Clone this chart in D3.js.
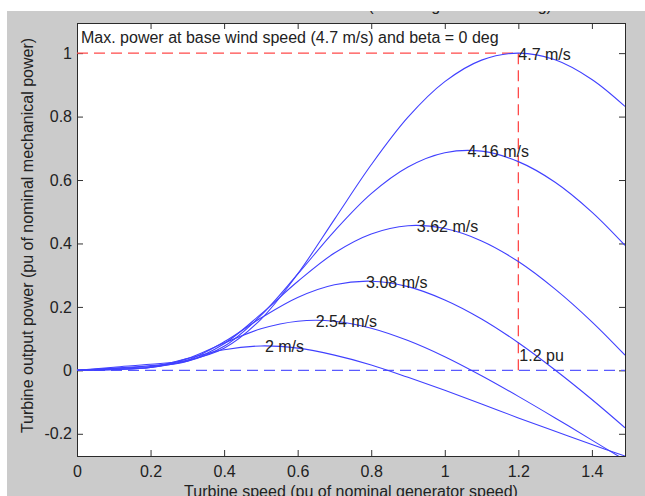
<!DOCTYPE html>
<meta charset="utf-8">
<head>
	<title>Turbine Power Characteristics</title>
	<script type="text/javascript" src="https://d3js.org/d3.v7.min.js"></script>
	<style>
		body { margin: 0; background: #fff; }
		text { font-family: "Liberation Sans", Arial, sans-serif; fill: #222; }
	</style>
</head>

<body>
	<div id="chart"></div>

	<script>
		// turbine speed samples (pu) and output power (pu) per wind speed
		const speeds = [0, 0.1, 0.2, 0.3, 0.4, 0.5, 0.6, 0.7, 0.8, 0.9, 1.0, 1.1, 1.2, 1.3, 1.4, 1.49];
		const power470 = [0, 0.010, 0.019, 0.032, 0.070, 0.161, 0.304, 0.476, 0.648, 0.798, 0.910, 0.978, 1.000, 0.979, 0.917, 0.832];
		const power416 = [0, 0.007, 0.015, 0.029, 0.076, 0.173, 0.303, 0.439, 0.557, 0.641, 0.686, 0.691, 0.658, 0.593, 0.499, 0.394];
		const power362 = [0, 0.006, 0.012, 0.029, 0.084, 0.177, 0.280, 0.370, 0.430, 0.456, 0.447, 0.408, 0.343, 0.256, 0.153, 0.048];
		const power308 = [0, 0.004, 0.009, 0.032, 0.090, 0.165, 0.230, 0.270, 0.281, 0.264, 0.222, 0.162, 0.087, 0.001, -0.092, -0.181];
		const power254 = [0, 0.003, 0.009, 0.037, 0.086, 0.131, 0.155, 0.155, 0.133, 0.094, 0.043, -0.017, -0.082, -0.150, -0.220, -0.283];
		const power200 = [0, 0.002, 0.010, 0.037, 0.065, 0.077, 0.070, 0.048, 0.017, -0.022, -0.063, -0.106, -0.150, -0.192, -0.234, -0.270];

		// curve labels, placed at each curve's maximum
		const windLabels = ["4.7 m/s", "4.16 m/s", "3.62 m/s", "3.08 m/s", "2.54 m/s", "2 m/s"];
		const peakSpeed = [1.2, 1.062, 0.924, 0.786, 0.649, 0.511];
		const peakPower = [1.0, 0.693, 0.457, 0.281, 0.158, 0.077];

		const xTicks = [0, 0.2, 0.4, 0.6, 0.8, 1, 1.2, 1.4];
		const yTicks = [-0.2, 0, 0.2, 0.4, 0.6, 0.8, 1];

		const basePower = 1;
		const baseSpeed = 1.2;

		const width = 645;
		const height = 496;
		const plot = {left: 77, top: 23, right: 625, bottom: 456};
		const tickLen = 6;

		const svg = d3.select("#chart")
			.append("svg")
			.attr("width", width)
			.attr("height", height);

		// grey figure background (screenshot is cropped at top/left)
		svg.append("rect")
			.attr("x", 7).attr("y", 11)
			.attr("width", width - 7).attr("height", height - 11)
			.attr("fill", "#cbcbcb");

		svg.append("clipPath").attr("id", "fig")
			.append("rect")
			.attr("x", 7).attr("y", 11)
			.attr("width", width - 7).attr("height", height - 11);

		svg.append("clipPath").attr("id", "plotclip")
			.append("rect")
			.attr("x", plot.left).attr("y", plot.top)
			.attr("width", plot.right - plot.left).attr("height", plot.bottom - plot.top);

		// title, only its lower edge shows below the crop
		svg.append("text")
			.attr("clip-path", "url(#fig)")
			.attr("x", (plot.left + plot.right) / 2)
			.attr("y", 10.5)
			.attr("text-anchor", "middle")
			.style("font-size", "16px")
			.text("Turbine Power Characteristics (Pitch angle beta = 0 deg)");

		svg.append("rect")
			.attr("x", plot.left).attr("y", plot.top)
			.attr("width", plot.right - plot.left).attr("height", plot.bottom - plot.top)
			.attr("fill", "#fff");

		var x = d3.scaleLinear().domain([0, 1.49]).range([plot.left, plot.right]);
		var y = d3.scaleLinear().domain([-0.27, 1.095]).range([plot.bottom, plot.top]);

		// axes, MATLAB style: ticks inside on all four sides
		svg.append("g")
			.attr("transform", `translate(0,${plot.bottom})`)
			.call(d3.axisBottom(x).tickValues(xTicks).tickSizeInner(-tickLen).tickSizeOuter(0).tickPadding(10).tickFormat(d3.format("")))
			.call(g => g.select(".domain").remove());
		svg.append("g")
			.attr("transform", `translate(0,${plot.top})`)
			.call(d3.axisTop(x).tickValues(xTicks).tickSizeInner(-tickLen).tickSizeOuter(0).tickFormat(""))
			.call(g => g.select(".domain").remove());
		svg.append("g")
			.attr("transform", `translate(${plot.left},0)`)
			.call(d3.axisLeft(y).tickValues(yTicks).tickSizeInner(-tickLen).tickSizeOuter(0).tickPadding(5).tickFormat(d3.format("")))
			.call(g => g.select(".domain").remove());
		svg.append("g")
			.attr("transform", `translate(${plot.right},0)`)
			.call(d3.axisRight(y).tickValues(yTicks).tickSizeInner(-tickLen).tickSizeOuter(0).tickFormat(""))
			.call(g => g.select(".domain").remove());

		svg.selectAll(".tick line").attr("stroke", "#333");
		svg.selectAll(".tick text")
			.style("font-size", "16px")
			.attr("fill", "#222")
			.style("font-family", "Liberation Sans, Arial, sans-serif");
		svg.selectAll(".tick text").filter(function() { return this.textContent.startsWith("−"); })
			.text(function() { return this.textContent.replace("−", "-"); });

		svg.append("rect")
			.attr("x", plot.left + 0.5).attr("y", plot.top + 0.5)
			.attr("width", plot.right - plot.left).attr("height", plot.bottom - plot.top)
			.attr("fill", "none")
			.attr("stroke", "#2a2a2a");

		const body = svg.append("g").attr("clip-path", "url(#plotclip)");

		// zero line
		body.append("line")
			.attr("x1", x(0)).attr("x2", x(1.49))
			.attr("y1", y(0)).attr("y2", y(0))
			.attr("stroke", "#5a5aff")
			.attr("stroke-width", 1.3)
			.attr("stroke-dasharray", "11,6");

		// base speed / max power markers
		body.append("line")
			.attr("x1", x(0)).attr("x2", x(baseSpeed))
			.attr("y1", y(basePower)).attr("y2", y(basePower))
			.attr("stroke", "#ff4a4a")
			.attr("stroke-width", 1.3)
			.attr("stroke-dasharray", "11,6");
		body.append("line")
			.attr("x1", x(baseSpeed)).attr("x2", x(baseSpeed))
			.attr("y1", y(0)).attr("y2", y(basePower))
			.attr("stroke", "#ff4a4a")
			.attr("stroke-width", 1.3)
			.attr("stroke-dasharray", "11,6");

		const series = [power470, power416, power362, power308, power254, power200];

		var line = d3.line()
			.x((d, i) => x(speeds[i]))
			.y(d => y(d))
			.curve(d3.curveCatmullRom.alpha(0.5));

		body.selectAll(".curve")
			.data(series)
			.enter()
			.append("path")
			.attr("class", "curve")
			.attr("d", line)
			.attr("fill", "none")
			.attr("stroke", "#4040ff")
			.attr("stroke-width", 1.1);

		svg.selectAll(".wlabel")
			.data(windLabels)
			.enter()
			.append("text")
			.attr("class", "wlabel")
			.attr("x", (d, i) => x(peakSpeed[i]))
			.attr("y", (d, i) => y(peakPower[i]) + 1)
			.attr("dominant-baseline", "central")
			.style("font-size", "16px")
			.text(d => d);

		svg.append("text")
			.attr("x", x(baseSpeed) + 1)
			.attr("y", y(0.046))
			.attr("dominant-baseline", "central")
			.style("font-size", "16px")
			.text("1.2 pu");

		svg.append("text")
			.attr("x", 81)
			.attr("y", 43)
			.style("font-size", "16px")
			.text("Max. power at base wind speed (4.7 m/s) and beta = 0 deg");

		// axis titles
		svg.append("text")
			.attr("x", (plot.left + plot.right) / 2)
			.attr("y", 497)
			.attr("text-anchor", "middle")
			.style("font-size", "16px")
			.text("Turbine speed (pu of nominal generator speed)");

		svg.append("text")
			.attr("transform", `translate(33,${(plot.top + plot.bottom) / 2 - 4}) rotate(-90)`)
			.attr("text-anchor", "middle")
			.style("font-size", "16px")
			.text("Turbine output power (pu of nominal mechanical power)");
	</script>
</body>
</html>
